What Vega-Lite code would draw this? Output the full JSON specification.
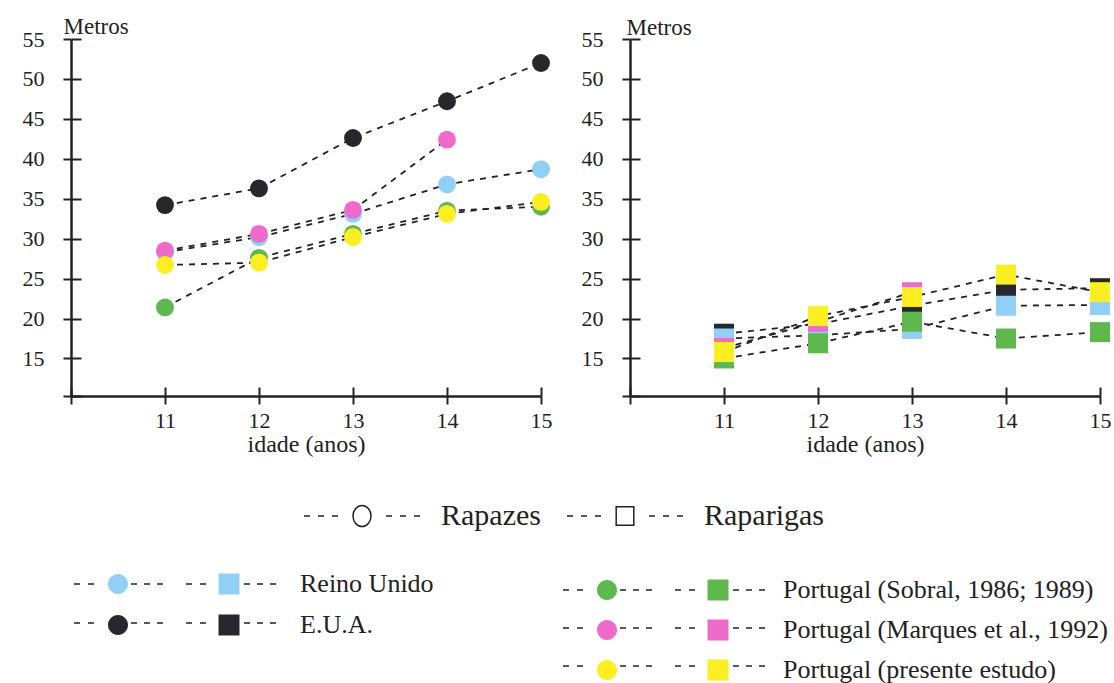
{
  "$schema": "https://vega.github.io/schema/vega-lite/v6.json",
  "background": "white",
  "padding": {"left": 22, "top": 15, "right": 5, "bottom": 5},
  "config": {
    "view": {"stroke": null},
    "font": "Liberation Serif",
    "axis": {"domainColor": "#222", "domainWidth": 2.5, "tickColor": "#222", "tickWidth": 2, "labelFont": "Liberation Serif", "labelFontSize": 22, "labelColor": "#222", "grid": false, "titleFont": "Liberation Serif", "titleFontWeight": "normal", "titleColor": "#222", "labelFlush": false, "labelOverlap": false},
    "legend": {"labelFont": "Liberation Serif", "labelColor": "#222", "padding": 0, "titlePadding": 0}
  },
  "datasets": {
    "d": [
      {"sexo": "Rapazes", "serie": "E.U.A.", "idade": 11, "metros": 34.2},
      {"sexo": "Rapazes", "serie": "E.U.A.", "idade": 12, "metros": 36.3},
      {"sexo": "Rapazes", "serie": "E.U.A.", "idade": 13, "metros": 42.6},
      {"sexo": "Rapazes", "serie": "E.U.A.", "idade": 14, "metros": 47.2},
      {"sexo": "Rapazes", "serie": "E.U.A.", "idade": 15, "metros": 52.0},
      {"sexo": "Rapazes", "serie": "Reino Unido", "idade": 11, "metros": 28.3},
      {"sexo": "Rapazes", "serie": "Reino Unido", "idade": 12, "metros": 30.2},
      {"sexo": "Rapazes", "serie": "Reino Unido", "idade": 13, "metros": 33.1},
      {"sexo": "Rapazes", "serie": "Reino Unido", "idade": 14, "metros": 36.8},
      {"sexo": "Rapazes", "serie": "Reino Unido", "idade": 15, "metros": 38.7},
      {"sexo": "Rapazes", "serie": "Portugal (Sobral, 1986; 1989)", "idade": 11, "metros": 21.4},
      {"sexo": "Rapazes", "serie": "Portugal (Sobral, 1986; 1989)", "idade": 12, "metros": 27.6},
      {"sexo": "Rapazes", "serie": "Portugal (Sobral, 1986; 1989)", "idade": 13, "metros": 30.6},
      {"sexo": "Rapazes", "serie": "Portugal (Sobral, 1986; 1989)", "idade": 14, "metros": 33.5},
      {"sexo": "Rapazes", "serie": "Portugal (Sobral, 1986; 1989)", "idade": 15, "metros": 34.0},
      {"sexo": "Rapazes", "serie": "Portugal (Marques et al., 1992)", "idade": 11, "metros": 28.5},
      {"sexo": "Rapazes", "serie": "Portugal (Marques et al., 1992)", "idade": 12, "metros": 30.6},
      {"sexo": "Rapazes", "serie": "Portugal (Marques et al., 1992)", "idade": 13, "metros": 33.6},
      {"sexo": "Rapazes", "serie": "Portugal (Marques et al., 1992)", "idade": 14, "metros": 42.4},
      {"sexo": "Rapazes", "serie": "Portugal (presente estudo)", "idade": 11, "metros": 26.7},
      {"sexo": "Rapazes", "serie": "Portugal (presente estudo)", "idade": 12, "metros": 27.0},
      {"sexo": "Rapazes", "serie": "Portugal (presente estudo)", "idade": 13, "metros": 30.2},
      {"sexo": "Rapazes", "serie": "Portugal (presente estudo)", "idade": 14, "metros": 33.1},
      {"sexo": "Rapazes", "serie": "Portugal (presente estudo)", "idade": 15, "metros": 34.6},
      {"sexo": "Raparigas", "serie": "E.U.A.", "idade": 11, "metros": 18.1},
      {"sexo": "Raparigas", "serie": "E.U.A.", "idade": 12, "metros": 19.3},
      {"sexo": "Raparigas", "serie": "E.U.A.", "idade": 13, "metros": 21.6},
      {"sexo": "Raparigas", "serie": "E.U.A.", "idade": 14, "metros": 23.6},
      {"sexo": "Raparigas", "serie": "E.U.A.", "idade": 15, "metros": 23.8},
      {"sexo": "Raparigas", "serie": "Reino Unido", "idade": 11, "metros": 17.5},
      {"sexo": "Raparigas", "serie": "Reino Unido", "idade": 12, "metros": 17.9},
      {"sexo": "Raparigas", "serie": "Reino Unido", "idade": 13, "metros": 18.7},
      {"sexo": "Raparigas", "serie": "Reino Unido", "idade": 14, "metros": 21.6},
      {"sexo": "Raparigas", "serie": "Reino Unido", "idade": 15, "metros": 21.7},
      {"sexo": "Raparigas", "serie": "Portugal (Sobral, 1986; 1989)", "idade": 11, "metros": 15.0},
      {"sexo": "Raparigas", "serie": "Portugal (Sobral, 1986; 1989)", "idade": 12, "metros": 16.9},
      {"sexo": "Raparigas", "serie": "Portugal (Sobral, 1986; 1989)", "idade": 13, "metros": 19.6},
      {"sexo": "Raparigas", "serie": "Portugal (Sobral, 1986; 1989)", "idade": 14, "metros": 17.5},
      {"sexo": "Raparigas", "serie": "Portugal (Sobral, 1986; 1989)", "idade": 15, "metros": 18.3},
      {"sexo": "Raparigas", "serie": "Portugal (Marques et al., 1992)", "idade": 11, "metros": 16.3},
      {"sexo": "Raparigas", "serie": "Portugal (Marques et al., 1992)", "idade": 12, "metros": 19.6},
      {"sexo": "Raparigas", "serie": "Portugal (Marques et al., 1992)", "idade": 13, "metros": 23.3},
      {"sexo": "Raparigas", "serie": "Portugal (presente estudo)", "idade": 11, "metros": 15.8},
      {"sexo": "Raparigas", "serie": "Portugal (presente estudo)", "idade": 12, "metros": 20.3},
      {"sexo": "Raparigas", "serie": "Portugal (presente estudo)", "idade": 13, "metros": 22.7},
      {"sexo": "Raparigas", "serie": "Portugal (presente estudo)", "idade": 14, "metros": 25.5},
      {"sexo": "Raparigas", "serie": "Portugal (presente estudo)", "idade": 15, "metros": 23.3}
    ]
  },
  "data": {"name": "d"},
  "spacing": 89,
  "bounds": "flush",
  "hconcat": [
    {
      "width": 470,
      "height": 357,
      "transform": [{"filter": "datum.sexo === 'Rapazes'"}],
      "resolve": {"axis": {"x": "independent", "y": "independent"}},
      "layer": [
        {
          "transform": [{"filter": {"field": "serie", "oneOf": ["E.U.A.", "Reino Unido"]}}],
          "mark": {"type": "line", "strokeWidth": 1.8, "strokeDash": [6, 6]},
          "encoding": {
            "x": {"field": "idade", "type": "quantitative", "scale": {"domain": [10, 15], "nice": false, "zero": false},
                  "axis": {"values": [10, 11, 12, 13, 14, 15], "labelExpr": "datum.value < 10.5 ? '' : datum.label", "tickSize": 8, "labelPadding": 6, "grid": true, "gridDash": [0, 348, 9, 1000], "gridWidth": 2, "gridColor": "#222222", "title": "idade (anos)", "titleFontSize": 24, "titleBaseline": "alphabetic", "titleY": 55}},
            "y": {"field": "metros", "type": "quantitative", "scale": {"domain": [10.3, 55], "nice": false, "zero": false},
                  "axis": {"values": [10.3, 15, 20, 25, 30, 35, 40, 45, 50, 55], "labelExpr": "datum.value < 12 ? '' : datum.label", "tickSize": 8, "labelPadding": 19, "grid": true, "gridDash": [10, 2000], "gridWidth": 2, "gridColor": "#222222", "title": "Metros", "titleAngle": 0, "titleAlign": "left", "titleBaseline": "alphabetic", "titleX": -8, "titleY": -6, "titleFontSize": 23}},
            "stroke": {"field": "serie", "type": "nominal", "scale": {"domain": ["E.U.A.", "Reino Unido"], "range": ["#222222", "#222222"]},
                       "legend": {"title": null, "orient": "none", "legendX": 34, "legendY": 532, "direction": "vertical", "values": ["Reino Unido", "E.U.A."], "symbolType": "M-4.4,0H-3.8M-3,0H-2.4M1.3,0H1.9M2.6,0H3.2M3.9,0H4.5M6.8,0H7.4M8.2,0H8.8M12.6,0H13.2M13.9,0H14.5M15.2,0H15.8", "symbolSize": 400, "symbolStrokeWidth": 1.5, "symbolFillColor": "transparent", "symbolOpacity": 1, "labelFontSize": 26, "labelOffset": 169, "rowPadding": 13, "labelLimit": 0, "labelOpacity": 0}}
          }
        },
        {
          "transform": [{"filter": {"field": "serie", "oneOf": ["Portugal (Sobral, 1986; 1989)", "Portugal (Marques et al., 1992)", "Portugal (presente estudo)"]}}],
          "mark": {"type": "line", "strokeWidth": 1.8, "color": "#222222"},
          "encoding": {
            "x": {"field": "idade", "type": "quantitative", "scale": {"domain": [10, 15], "nice": false, "zero": false}, "axis": null},
            "y": {"field": "metros", "type": "quantitative", "scale": {"domain": [10.3, 55], "nice": false, "zero": false}, "axis": null},
            "strokeDash": {"field": "serie", "type": "nominal", "scale": {"domain": ["Portugal (presente estudo)", "Portugal (Marques et al., 1992)", "Portugal (Sobral, 1986; 1989)"], "range": [[6, 6], [6, 6], [6, 6]]},
                           "legend": {"title": null, "orient": "none", "legendX": 523, "legendY": 538, "direction": "vertical", "values": ["Portugal (Sobral, 1986; 1989)", "Portugal (Marques et al., 1992)", "Portugal (presente estudo)"], "symbolType": "M-4.4,0H-3.8M-3,0H-2.4M1.3,0H1.9M2.6,0H3.2M3.9,0H4.5M6.8,0H7.4M8.2,0H8.8M12.6,0H13.2M13.9,0H14.5M15.2,0H15.8", "symbolSize": 400, "symbolStrokeWidth": 1.5, "symbolFillColor": "transparent", "symbolOpacity": 1, "labelFontSize": 26, "labelOffset": 163, "rowPadding": 12, "labelLimit": 0, "labelOpacity": 0}}
          }
        },
        {
          "transform": [{"filter": {"field": "serie", "oneOf": ["E.U.A.", "Reino Unido"]}}],
          "mark": {"type": "point", "shape": "circle", "filled": true, "opacity": 1, "size": 320, "strokeWidth": 0},
          "encoding": {
            "x": {"field": "idade", "type": "quantitative", "scale": {"domain": [10, 15], "nice": false, "zero": false}, "axis": null},
            "y": {"field": "metros", "type": "quantitative", "scale": {"domain": [10.3, 55], "nice": false, "zero": false}, "axis": null},
            "fill": {"field": "serie", "type": "nominal", "scale": {"domain": ["Reino Unido", "E.U.A."], "range": ["#92cff5", "#28272d"]},
                     "legend": {"title": null, "orient": "none", "legendX": 34, "legendY": 532, "direction": "vertical", "values": ["Reino Unido", "E.U.A."], "symbolType": "M-4.4,0H-3.8M-3,0H-2.4M1.3,0H1.9M2.6,0H3.2M3.9,0H4.5M6.8,0H7.4M8.2,0H8.8M12.6,0H13.2M13.9,0H14.5M15.2,0H15.8M1,0A1,1 0 1,1 -1,0A1,1 0 1,1 1,0ZM10.05,-1.05H12.15V1.05H10.05Z", "symbolSize": 400, "symbolStrokeWidth": 1.5, "symbolStrokeColor": "transparent", "symbolOpacity": 1, "labelFontSize": 26, "labelOffset": 169, "rowPadding": 13, "labelLimit": 0}}
          }
        },
        {
          "transform": [{"filter": {"field": "serie", "oneOf": ["Portugal (Sobral, 1986; 1989)", "Portugal (Marques et al., 1992)", "Portugal (presente estudo)"]}}],
          "mark": {"type": "point", "shape": "circle", "filled": true, "opacity": 1, "size": 320, "strokeWidth": 0},
          "encoding": {
            "x": {"field": "idade", "type": "quantitative", "scale": {"domain": [10, 15], "nice": false, "zero": false}, "axis": null},
            "y": {"field": "metros", "type": "quantitative", "scale": {"domain": [10.3, 55], "nice": false, "zero": false}, "axis": null},
            "color": {"field": "serie", "type": "nominal", "scale": {"domain": ["Portugal (Sobral, 1986; 1989)", "Portugal (Marques et al., 1992)", "Portugal (presente estudo)"], "range": ["#5fb84e", "#ef6bc9", "#fbee22"]},
                      "legend": {"title": null, "orient": "none", "legendX": 523, "legendY": 538, "direction": "vertical", "values": ["Portugal (Sobral, 1986; 1989)", "Portugal (Marques et al., 1992)", "Portugal (presente estudo)"], "symbolType": "M-4.4,0H-3.8M-3,0H-2.4M1.3,0H1.9M2.6,0H3.2M3.9,0H4.5M6.8,0H7.4M8.2,0H8.8M12.6,0H13.2M13.9,0H14.5M15.2,0H15.8M1,0A1,1 0 1,1 -1,0A1,1 0 1,1 1,0ZM10.05,-1.05H12.15V1.05H10.05Z", "symbolSize": 400, "symbolStrokeWidth": 1.5, "symbolStrokeColor": "transparent", "symbolOpacity": 1, "labelFontSize": 26, "labelOffset": 163, "rowPadding": 12, "labelLimit": 0}}
          }
        },
        {
          "mark": {"type": "point", "filled": false, "opacity": 0, "size": 400, "strokeWidth": 1.5, "color": "#222222"},
          "encoding": {
            "x": {"field": "idade", "type": "quantitative", "scale": {"domain": [10, 15], "nice": false, "zero": false}, "axis": null},
            "y": {"field": "metros", "type": "quantitative", "scale": {"domain": [10.3, 55], "nice": false, "zero": false}, "axis": null},
            "shape": {"field": "sexo", "type": "nominal", "scale": {"domain": ["Rapazes", "Raparigas"], "range": ["M-5.8,0H-5.2M-4.4,0H-3.8M-3,0H-2.4M2.4,0H3M3.8,0H4.4M5.2,0H5.8M0,-1.05A0.9,1.05 0 1,1 0,1.05A0.9,1.05 0 1,1 0,-1.05Z", "M-5.8,0H-5.2M-4.4,0H-3.8M-3,0H-2.4M2.4,0H3M3.8,0H4.4M5.2,0H5.8M-0.88,-0.92H0.88V0.92H-0.88Z"]},
                      "legend": {"title": null, "orient": "none", "legendX": 276, "legendY": 462, "direction": "horizontal", "symbolSize": 400, "symbolStrokeWidth": 1.5, "symbolStrokeColor": "#222222", "symbolFillColor": "transparent", "symbolOpacity": 1, "labelFontSize": 30, "labelOffset": 64, "columnPadding": 23, "labelLimit": 0}}
          }
        }
      ]
    },
    {
      "width": 470,
      "height": 357,
      "transform": [{"filter": "datum.sexo === 'Raparigas'"}],
      "resolve": {"axis": {"x": "independent", "y": "independent"}},
      "layer": [
        {
          "transform": [{"filter": {"field": "serie", "oneOf": ["E.U.A.", "Reino Unido"]}}],
          "mark": {"type": "line", "strokeWidth": 1.8, "strokeDash": [6, 6]},
          "encoding": {
            "x": {"field": "idade", "type": "quantitative", "scale": {"domain": [10, 15], "nice": false, "zero": false},
                  "axis": {"values": [10, 11, 12, 13, 14, 15], "labelExpr": "datum.value < 10.5 ? '' : datum.label", "tickSize": 8, "labelPadding": 6, "grid": true, "gridDash": [0, 348, 9, 1000], "gridWidth": 2, "gridColor": "#222222", "title": "idade (anos)", "titleFontSize": 24, "titleBaseline": "alphabetic", "titleY": 55}},
            "y": {"field": "metros", "type": "quantitative", "scale": {"domain": [10.3, 55], "nice": false, "zero": false},
                  "axis": {"values": [10.3, 15, 20, 25, 30, 35, 40, 45, 50, 55], "labelExpr": "datum.value < 12 ? '' : datum.label", "tickSize": 8, "labelPadding": 19, "grid": true, "gridDash": [10, 2000], "gridWidth": 2, "gridColor": "#222222", "title": "Metros", "titleAngle": 0, "titleAlign": "left", "titleBaseline": "alphabetic", "titleX": -4, "titleY": -5, "titleFontSize": 23}},
            "stroke": {"field": "serie", "type": "nominal", "scale": {"domain": ["E.U.A.", "Reino Unido"], "range": ["#222222", "#222222"]},
                       "legend": {"title": null, "orient": "none", "legendX": 34, "legendY": 532, "direction": "vertical", "values": ["Reino Unido", "E.U.A."], "symbolType": "M-4.4,0H-3.8M-3,0H-2.4M1.3,0H1.9M2.6,0H3.2M3.9,0H4.5M6.8,0H7.4M8.2,0H8.8M12.6,0H13.2M13.9,0H14.5M15.2,0H15.8", "symbolSize": 400, "symbolStrokeWidth": 1.5, "symbolFillColor": "transparent", "symbolOpacity": 1, "labelFontSize": 26, "labelOffset": 169, "rowPadding": 13, "labelLimit": 0, "labelOpacity": 0}}
          }
        },
        {
          "transform": [{"filter": {"field": "serie", "oneOf": ["Portugal (Sobral, 1986; 1989)", "Portugal (Marques et al., 1992)", "Portugal (presente estudo)"]}}],
          "mark": {"type": "line", "strokeWidth": 1.8, "color": "#222222"},
          "encoding": {
            "x": {"field": "idade", "type": "quantitative", "scale": {"domain": [10, 15], "nice": false, "zero": false}, "axis": null},
            "y": {"field": "metros", "type": "quantitative", "scale": {"domain": [10.3, 55], "nice": false, "zero": false}, "axis": null},
            "strokeDash": {"field": "serie", "type": "nominal", "scale": {"domain": ["Portugal (presente estudo)", "Portugal (Marques et al., 1992)", "Portugal (Sobral, 1986; 1989)"], "range": [[6, 6], [6, 6], [6, 6]]},
                           "legend": {"title": null, "orient": "none", "legendX": 523, "legendY": 538, "direction": "vertical", "values": ["Portugal (Sobral, 1986; 1989)", "Portugal (Marques et al., 1992)", "Portugal (presente estudo)"], "symbolType": "M-4.4,0H-3.8M-3,0H-2.4M1.3,0H1.9M2.6,0H3.2M3.9,0H4.5M6.8,0H7.4M8.2,0H8.8M12.6,0H13.2M13.9,0H14.5M15.2,0H15.8", "symbolSize": 400, "symbolStrokeWidth": 1.5, "symbolFillColor": "transparent", "symbolOpacity": 1, "labelFontSize": 26, "labelOffset": 163, "rowPadding": 12, "labelLimit": 0, "labelOpacity": 0}}
          }
        },
        {
          "transform": [{"filter": {"field": "serie", "oneOf": ["E.U.A.", "Reino Unido"]}}],
          "mark": {"type": "point", "shape": "square", "filled": true, "opacity": 1, "size": 400, "strokeWidth": 0},
          "encoding": {
            "x": {"field": "idade", "type": "quantitative", "scale": {"domain": [10, 15], "nice": false, "zero": false}, "axis": null},
            "y": {"field": "metros", "type": "quantitative", "scale": {"domain": [10.3, 55], "nice": false, "zero": false}, "axis": null},
            "fill": {"field": "serie", "type": "nominal", "scale": {"domain": ["Reino Unido", "E.U.A."], "range": ["#92cff5", "#28272d"]},
                     "legend": {"title": null, "orient": "none", "legendX": 34, "legendY": 532, "direction": "vertical", "values": ["Reino Unido", "E.U.A."], "symbolType": "M-4.4,0H-3.8M-3,0H-2.4M1.3,0H1.9M2.6,0H3.2M3.9,0H4.5M6.8,0H7.4M8.2,0H8.8M12.6,0H13.2M13.9,0H14.5M15.2,0H15.8M1,0A1,1 0 1,1 -1,0A1,1 0 1,1 1,0ZM10.05,-1.05H12.15V1.05H10.05Z", "symbolSize": 400, "symbolStrokeWidth": 1.5, "symbolStrokeColor": "transparent", "symbolOpacity": 1, "labelFontSize": 26, "labelOffset": 169, "rowPadding": 13, "labelLimit": 0}}
          }
        },
        {
          "transform": [{"filter": {"field": "serie", "oneOf": ["Portugal (Sobral, 1986; 1989)", "Portugal (Marques et al., 1992)", "Portugal (presente estudo)"]}}],
          "mark": {"type": "point", "shape": "square", "filled": true, "opacity": 1, "size": 400, "strokeWidth": 0},
          "encoding": {
            "x": {"field": "idade", "type": "quantitative", "scale": {"domain": [10, 15], "nice": false, "zero": false}, "axis": null},
            "y": {"field": "metros", "type": "quantitative", "scale": {"domain": [10.3, 55], "nice": false, "zero": false}, "axis": null},
            "color": {"field": "serie", "type": "nominal", "scale": {"domain": ["Portugal (Sobral, 1986; 1989)", "Portugal (Marques et al., 1992)", "Portugal (presente estudo)"], "range": ["#5fb84e", "#ef6bc9", "#fbee22"]},
                      "legend": {"title": null, "orient": "none", "legendX": 523, "legendY": 538, "direction": "vertical", "values": ["Portugal (Sobral, 1986; 1989)", "Portugal (Marques et al., 1992)", "Portugal (presente estudo)"], "symbolType": "M-4.4,0H-3.8M-3,0H-2.4M1.3,0H1.9M2.6,0H3.2M3.9,0H4.5M6.8,0H7.4M8.2,0H8.8M12.6,0H13.2M13.9,0H14.5M15.2,0H15.8M1,0A1,1 0 1,1 -1,0A1,1 0 1,1 1,0ZM10.05,-1.05H12.15V1.05H10.05Z", "symbolSize": 400, "symbolStrokeWidth": 1.5, "symbolStrokeColor": "transparent", "symbolOpacity": 1, "labelFontSize": 26, "labelOffset": 163, "rowPadding": 12, "labelLimit": 0}}
          }
        },
        {
          "mark": {"type": "point", "filled": false, "opacity": 0, "size": 400, "strokeWidth": 1.5, "color": "#222222"},
          "encoding": {
            "x": {"field": "idade", "type": "quantitative", "scale": {"domain": [10, 15], "nice": false, "zero": false}, "axis": null},
            "y": {"field": "metros", "type": "quantitative", "scale": {"domain": [10.3, 55], "nice": false, "zero": false}, "axis": null},
            "shape": {"field": "sexo", "type": "nominal", "scale": {"domain": ["Rapazes", "Raparigas"], "range": ["M-5.8,0H-5.2M-4.4,0H-3.8M-3,0H-2.4M2.4,0H3M3.8,0H4.4M5.2,0H5.8M0,-1.05A0.9,1.05 0 1,1 0,1.05A0.9,1.05 0 1,1 0,-1.05Z", "M-5.8,0H-5.2M-4.4,0H-3.8M-3,0H-2.4M2.4,0H3M3.8,0H4.4M5.2,0H5.8M-0.88,-0.92H0.88V0.92H-0.88Z"]},
                      "legend": {"title": null, "orient": "none", "legendX": 276, "legendY": 462, "direction": "horizontal", "symbolSize": 400, "symbolStrokeWidth": 1.5, "symbolStrokeColor": "#222222", "symbolFillColor": "transparent", "symbolOpacity": 1, "labelFontSize": 30, "labelOffset": 64, "columnPadding": 23, "labelLimit": 0}}
          }
        }
      ]
    }
  ]
}
